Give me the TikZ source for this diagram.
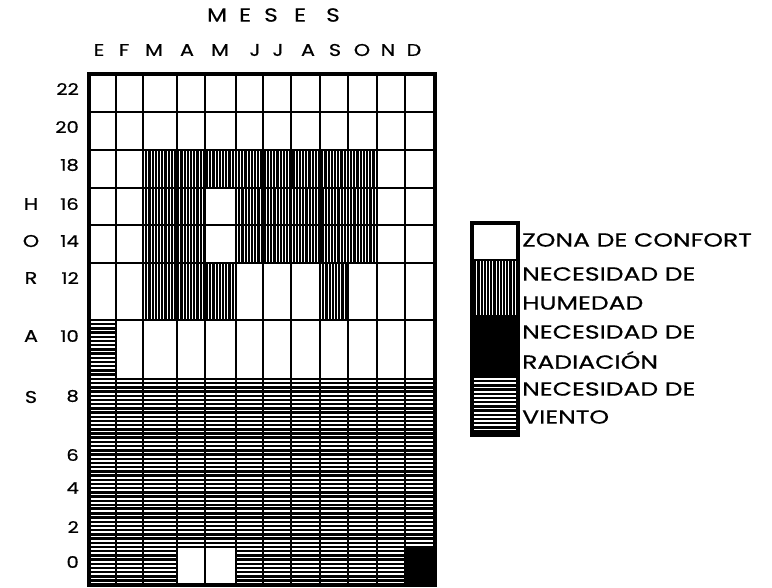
\documentclass[tikz,border=0pt]{standalone}
\usepackage{fontspec}
\setmainfont{Poppins}
\newfontfamily\handfont[FakeStretch=1.22,FakeBold=0.6]{Poppins}
\newfontfamily\legfont[FakeStretch=1.32,FakeBold=0.6]{Poppins}
\newcommand\myvhatch[4]{%
  \fill[black] (#1,#2) rectangle (#3,#4);
  \begin{scope}
    \clip (#1,#2) rectangle (#3,#4);
    \foreach \k in {1.6,4.8,...,260} \draw[white,line width=0.9pt] ({#1+\k},#2) -- ({#1+\k},#4);
  \end{scope}}
\newcommand\myhhatch[4]{%
  \fill[black] (#1,#2) rectangle (#3,#4);
  \begin{scope}
    \clip (#1,#2) rectangle (#3,#4);
    \foreach \k in {2.1,6.3,...,270} \draw[white,line width=1.9pt] (#1,{#2+\k}) -- (#3,{#2+\k});
  \end{scope}}
\tikzset{
  gridline/.style={line width=2.8pt,black},
  border/.style={line width=3.6pt,black,line join=miter},
  month/.style={font=\handfont\fontsize{17}{17}\selectfont,inner sep=0pt,anchor=center},
  title/.style={font=\handfont\fontsize{19}{19}\selectfont,inner sep=0pt,anchor=center},
  hour/.style={font=\handfont\fontsize{16}{16}\selectfont,inner sep=0pt,anchor=east},
  horas/.style={font=\handfont\fontsize{17}{17}\selectfont,inner sep=0pt,anchor=center},
  legtext/.style={font=\legfont\fontsize{19}{19}\selectfont,inner sep=0pt,anchor=west},
}
\begin{document}
\begin{tikzpicture}[x=1pt,y=-1pt]
\useasboundingbox (0,0) rectangle (772,588);
\fill[white] (0,0) rectangle (772,588);
% humidity (vertical hatch)
\myvhatch{143}{150}{377}{188}
\myvhatch{143}{188}{205}{263}
\myvhatch{236}{188}{377}{263}
\myvhatch{143}{263}{236}{320}
\myvhatch{320}{263}{348}{320}
% wind (horizontal hatch)
\myhhatch{89}{320}{116}{379}
\myhhatch{89}{379}{435}{585}
\fill[white] (177,547) rectangle (236,585);
\fill[black] (405,547) rectangle (435,585);
% grid
\foreach \x in {116,143,177,205,236,263,291,320,348,377,405}
  \draw[gridline] (\x,74) -- (\x,585);
\foreach \y in {112,150,188,225,263,320,379,437,472}
  \draw[gridline] (89,\y) -- (435,\y);
\foreach \y in {508,547}
  \draw[line width=1.2pt] (89,\y) -- (435,\y);
\draw[border] (89,74) rectangle (435,585);
% titles
\node[title] (t1) at (217,15) {M};
\node[title] (t2) at (245,15) {E};
\node[title] (t3) at (271,15) {S};
\node[title] (t4) at (300,15) {E};
\node[title] (t5) at (333,15) {S};
\foreach \n/\x/\l in {m1/99/E,m2/124/F,m3/154/M,m4/187/A,m5/220/M,m6/255/J,m7/278/J,m8/308/A,m9/335/S,m10/362/O,m11/388/N,m12/414/D}
  \node[month] (\n) at (\x,50) {\l};
% hours
\foreach \n/\y/\l in {h22/89/22,h20/127/20,h18/165/18,h16/204/16,h14/241/14,h12/278/12,h10/336/10,h8/396/8,h6/455/6,h4/488/4,h2/527/2,h0/562/0}
  \node[hour] (\n) at (79,\y) {\l};
\foreach \n/\y/\l in {vH/204/H,vO/241/O,vR/278/R,vA/336/A,vS/397/S}
  \node[horas] (\n) at (31,\y) {\l};
% legend
\fill[white] (472,223) rectangle (518,260);
\myvhatch{472}{260}{518}{315}
\fill[black] (472,315) rectangle (518,377);
\myhhatch{472}{377}{518}{435}
\draw[line width=2.2pt] (472,260) -- (518,260);
\draw[border] (472,223) rectangle (518,435);
\node[legtext] (l1) at (522,240) {ZONA DE CONFORT};
\node[legtext] (l2) at (522,274) {NECESIDAD DE};
\node[legtext] (l3) at (522,303) {HUMEDAD};
\node[legtext] (l4) at (522,332) {NECESIDAD DE};
\node[legtext] (l5) at (522,360) {RADIACIÓN};
\node[legtext] (l6) at (522,389) {NECESIDAD DE};
\node[legtext] (l7) at (522,417) {VIENTO};
\end{tikzpicture}
\end{document}
